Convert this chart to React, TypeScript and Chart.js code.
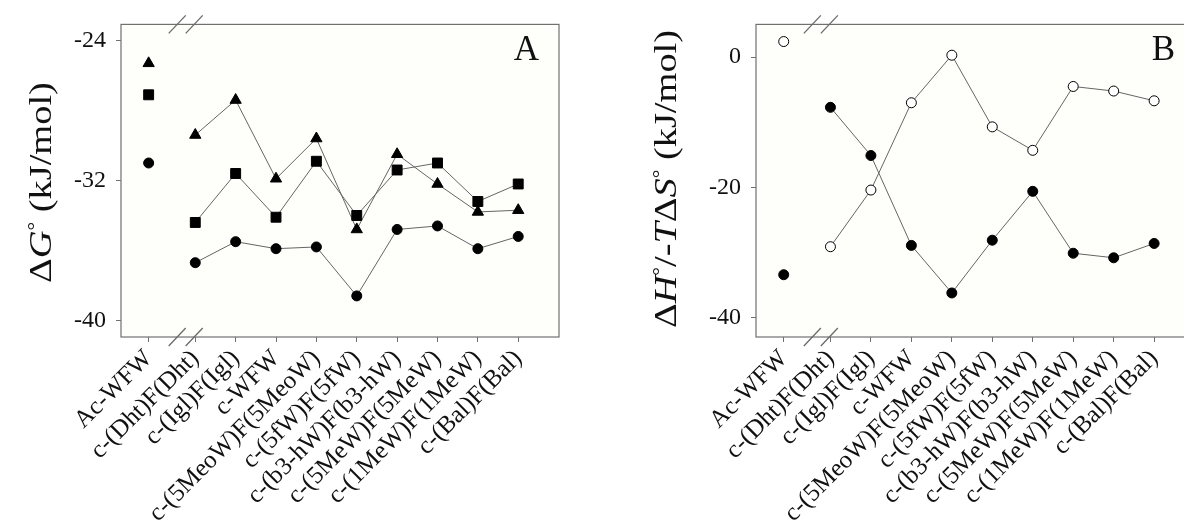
import React, { useEffect, useRef } from "react";
import { Chart, registerables } from "chart.js";

Chart.register(...registerables);

// Peptides on the x axis; the linear reference peptide sits apart, beyond the axis break
const compounds = [
  "Ac-WFW",
  "c-(Dht)F(Dht)",
  "c-(Igl)F(Igl)",
  "c-WFW",
  "c-(5MeoW)F(5MeoW)",
  "c-(5fW)F(5fW)",
  "c-(b3-hW)F(b3-hW)",
  "c-(5MeW)F(5MeW)",
  "c-(1MeW)F(1MeW)",
  "c-(Bal)F(Bal)",
];
const compoundPositions = [-1.155, 0, 1, 2, 3, 4, 5, 6, 7, 8];

// Panel A: ΔG° (kJ/mol)
const dGTriangle = [-25.3, -29.4, -27.4, -31.9, -29.6, -34.8, -30.5, -32.2, -33.8, -33.7];
const dGSquare = [-27.1, -34.4, -31.6, -34.1, -30.9, -34.0, -31.4, -31.0, -33.2, -32.2];
const dGCircle = [-31.0, -36.7, -35.5, -35.9, -35.8, -38.6, -34.8, -34.6, -35.9, -35.2];

// Panel B: ΔH° (filled) and -TΔS° (open), kJ/mol
const dH = [-33.4, -7.7, -15.1, -28.9, -36.2, -28.1, -20.6, -30.1, -30.8, -28.6];
const minusTdS = [2.4, -29.1, -20.4, -7.0, 0.3, -10.7, -14.3, -4.5, -5.2, -6.7];

const yTicksA = [-24, -32, -40];
const yTicksB = [0, -20, -40];

const SERIF = '"Liberation Serif", "Times New Roman", serif';
const LINE = "#656565";
const AXIS = "#707070";

type Run = { t: string; italic?: boolean; sup?: boolean };

function drawVerticalTitle(
  ctx: CanvasRenderingContext2D,
  runs: Run[],
  cx: number,
  cy: number,
  size: number,
  stretch: number
) {
  const fontFor = (r: Run) =>
    `${r.italic ? "italic " : ""}${r.sup ? Math.round(size * 0.55) : size}px ${SERIF}`;
  ctx.save();
  ctx.translate(cx, cy);
  ctx.rotate(-Math.PI / 2);
  ctx.scale(stretch, 1);
  let total = 0;
  const widths = runs.map((r) => {
    ctx.font = fontFor(r);
    const w = ctx.measureText(r.t).width;
    total += w;
    return w;
  });
  let x = -total / 2;
  const base = size * 0.25;
  ctx.fillStyle = "#111";
  ctx.textBaseline = "alphabetic";
  ctx.textAlign = "left";
  runs.forEach((r, i) => {
    ctx.font = fontFor(r);
    ctx.fillText(r.t, x, r.sup ? base - size * 0.3 : base);
    x += widths[i];
  });
  ctx.restore();
}

function series(values: number[], shape: string, radius: number, fill: string) {
  return {
    data: values.map((y, i) => ({ x: compoundPositions[i], y })),
    showLine: true,
    borderColor: LINE,
    borderWidth: 1,
    pointStyle: shape,
    pointRadius: radius,
    pointHoverRadius: radius,
    pointBackgroundColor: fill,
    pointBorderColor: "#000",
    pointBorderWidth: 1,
    segment: {
      borderColor: (c: any) => (c.p0DataIndex === 0 ? "rgba(0,0,0,0)" : LINE),
    },
  };
}

interface PanelProps {
  datasets: any[];
  yMin: number;
  yMax: number;
  yTicks: number[];
  yAxisWidth: number;
  rightPad: number;
  letter: string;
  title: Run[];
  titleX: number;
  titleY: number;
  titleStretch: number;
  left: number;
  width: number;
}

function Panel(p: PanelProps) {
  const ref = useRef<HTMLCanvasElement>(null);
  useEffect(() => {
    const canvas = ref.current;
    if (!canvas) return;
    const decor = {
      id: "decor",
      beforeDraw(chart: any) {
        const { ctx, chartArea: a } = chart;
        ctx.save();
        ctx.fillStyle = "#fefefb";
        ctx.fillRect(a.left, a.top, a.right - a.left, a.bottom - a.top);
        ctx.restore();
      },
      afterDraw(chart: any) {
        const { ctx, chartArea: a } = chart;
        const xs = chart.scales.x;
        ctx.save();
        // frame
        ctx.strokeStyle = AXIS;
        ctx.lineWidth = 1.2;
        ctx.strokeRect(a.left, a.top, a.right - a.left, a.bottom - a.top);
        // axis break marks on top and bottom edges
        const bx = xs.getPixelForValue(-0.225);
        ctx.strokeStyle = "#6a6a6a";
        ctx.lineWidth = 1.3;
        [a.top, a.bottom].forEach((yy: number) => {
          [-9, 8].forEach((dx) => {
            ctx.beginPath();
            ctx.moveTo(bx + dx - 8.5, yy + 9);
            ctx.lineTo(bx + dx + 8.5, yy - 9);
            ctx.stroke();
          });
        });
        // panel letter
        ctx.fillStyle = "#111";
        ctx.font = `35px ${SERIF}`;
        ctx.textAlign = "right";
        ctx.textBaseline = "alphabetic";
        ctx.fillText(p.letter, a.right - 20, a.top + 36);
        ctx.restore();
        drawVerticalTitle(ctx, p.title, p.titleX, p.titleY, 32, p.titleStretch);
      },
    };
    const chart = new Chart(canvas, {
      type: "scatter",
      data: { datasets: p.datasets },
      options: {
        responsive: false,
        animation: false,
        layout: { padding: { top: 22, right: p.rightPad, left: 0, bottom: 0 } },
        plugins: { legend: { display: false }, tooltip: { enabled: false } },
        scales: {
          x: {
            type: "linear",
            min: -1.84,
            max: 9.01,
            afterBuildTicks: (s: any) => {
              s.ticks = compoundPositions.map((v) => ({ value: v }));
            },
            afterFit: (s: any) => {
              s.height = 185;
            },
            grid: { display: true, drawOnChartArea: false, drawTicks: true, tickLength: 5, color: AXIS },
            border: { display: false },
            ticks: {
              autoSkip: false,
              minRotation: 45,
              maxRotation: 45,
              padding: 2,
              color: "#111",
              font: { family: SERIF, size: 25 },
              callback: (v: any) => {
                const i = compoundPositions.indexOf(Number(v));
                return i >= 0 ? compounds[i] : "";
              },
            },
          },
          y: {
            type: "linear",
            min: p.yMin,
            max: p.yMax,
            afterBuildTicks: (s: any) => {
              s.ticks = p.yTicks.map((v) => ({ value: v }));
            },
            afterFit: (s: any) => {
              s.width = p.yAxisWidth;
            },
            grid: { display: true, drawOnChartArea: false, drawTicks: true, tickLength: 5, color: AXIS },
            border: { display: false },
            ticks: {
              padding: 10,
              color: "#111",
              font: { family: SERIF, size: 24 },
              callback: (v: any) => String(v),
            },
          },
        },
      },
      plugins: [decor],
    } as any);
    return () => chart.destroy();
  }, []);
  return (
    <canvas
      ref={ref}
      width={p.width}
      height={522}
      style={{ position: "absolute", left: p.left, top: 0, width: p.width, height: 522 }}
    />
  );
}

export default function App() {
  const datasetsA = [
    series(dGCircle, "circle", 5, "#000"),
    series(dGSquare, "rect", 7, "#000"),
    series(dGTriangle, "triangle", 6.5, "#000"),
  ];
  const datasetsB = [series(dH, "circle", 5, "#000"), series(minusTdS, "circle", 5, "#fff")];
  return (
    <div
      style={{
        position: "fixed",
        left: 0,
        top: 0,
        width: 1184,
        height: 522,
        overflow: "hidden",
        background: "#fff",
      }}
    >
      <Panel
        datasets={datasetsA}
        yMin={-40.95}
        yMax={-23.074}
        yTicks={yTicksA}
        yAxisWidth={121}
        rightPad={41}
        letter="A"
        title={[{ t: "Δ" }, { t: "G", italic: true }, { t: "°", sup: true }, { t: " (kJ/mol)" }]}
        titleX={43}
        titleY={182.5}
        titleStretch={1.2}
        left={0}
        width={600}
      />
      <Panel
        datasets={datasetsB}
        yMin={-42.96}
        yMax={5.03}
        yTicks={yTicksB}
        yAxisWidth={156}
        rightPad={45}
        letter="B"
        title={[
          { t: "Δ" },
          { t: "H", italic: true },
          { t: "°", sup: true },
          { t: "/-" },
          { t: "T", italic: true },
          { t: "Δ" },
          { t: "S", italic: true },
          { t: "°", sup: true },
          { t: " (kJ/mol)" },
        ]}
        titleX={68}
        titleY={179}
        titleStretch={1.2}
        left={600}
        width={640}
      />
    </div>
  );
}
